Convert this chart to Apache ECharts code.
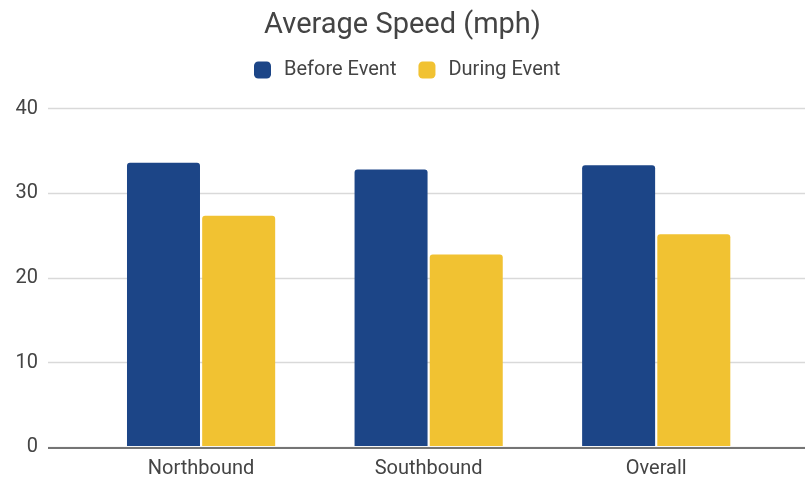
<!DOCTYPE html>
<html><head><meta charset="utf-8">
<script src="https://cdn.jsdelivr.net/npm/echarts@6/dist/echarts.min.js"></script>
<style>html,body{margin:0;padding:0;background:#fff}#c{width:805px;height:479px}</style>
</head><body><div id="c"></div>
<script>
const categories = ["Northbound", "Southbound", "Overall"];
const beforeEvent = [33.6, 32.8, 33.3];
const duringEvent = [27.3, 22.7, 25.1];
const yTicks = [0, 10, 20, 30, 40];
const seriesNames = ["Before Event", "During Event"];

const chart = echarts.init(document.getElementById('c'), null, {renderer: 'canvas'});
const F = 'Roboto, Arial, sans-serif';
const gTop = 108.7, gBottom = 479 - 447.3;
chart.setOption({
  animation: false,
  title: {text: 'Average Speed (mph)', left: 'center', top: 6,
    textStyle: {fontFamily: F, fontSize: 29, fontWeight: 'normal', color: '#444'}},
  legend: {data: seriesNames, top: 55, left: 249, itemWidth: 17, itemHeight: 17, itemGap: 22,
    icon: 'roundRect', textStyle: {fontFamily: F, fontSize: 20, color: '#444', padding: [0, 0, 0, 8]}},
  grid: [
    {left: 48, right: 0, top: gTop, bottom: gBottom, containLabel: false},
    {left: 87.3, right: 35, top: gTop, bottom: gBottom, containLabel: false}
  ],
  xAxis: [
    {gridIndex: 0, type: 'category', data: categories, show: false},
    {gridIndex: 1, type: 'category', data: categories,
      axisLine: {show: false}, axisTick: {show: false},
      axisLabel: {fontFamily: F, fontSize: 20, color: '#444', margin: 13}}
  ],
  yAxis: [
    {gridIndex: 0, type: 'value', min: 0, max: 40, interval: 10,
      axisLine: {show: false}, axisTick: {show: false},
      axisLabel: {fontFamily: F, fontSize: 20, color: '#444', margin: 10,
        formatter: v => yTicks.includes(v) ? String(v) : ''},
      splitLine: {lineStyle: {color: '#d9d9d9', width: 1.3}}},
    {gridIndex: 1, type: 'value', min: 0, max: 40, interval: 10, show: false, splitLine: {show: false}}
  ],
  series: [
    {name: seriesNames[0], type: 'bar', xAxisIndex: 1, yAxisIndex: 1, data: beforeEvent,
      barWidth: 73, barGap: '3%', itemStyle: {color: '#1c4587', borderRadius: [3,3,0,0]}},
    {name: seriesNames[1], type: 'bar', xAxisIndex: 1, yAxisIndex: 1, data: duringEvent,
      barWidth: 73, barGap: '3%', itemStyle: {color: '#f1c232', borderRadius: [3,3,0,0]}},
    {type: 'line', xAxisIndex: 0, yAxisIndex: 0, data: [], silent: true,
      markLine: {symbol: 'none', silent: true, label: {show: false},
        lineStyle: {color: '#757575', width: 2, type: 'solid'}, data: [{yAxis: 0}]}}
  ]
});
</script></body></html>
